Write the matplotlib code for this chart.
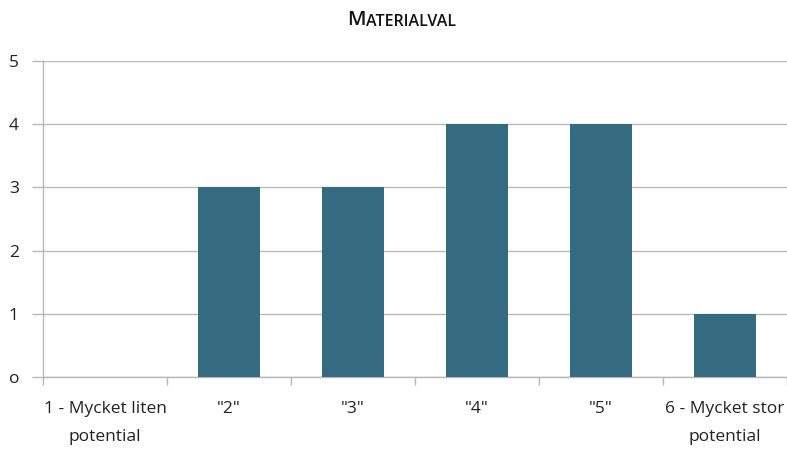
import matplotlib
matplotlib.use("Agg")
import matplotlib.pyplot as plt
import numpy as np

categories = ["1 - Mycket liten\npotential", '"2"', '"3"', '"4"', '"5"', "6 - Mycket stor\npotential"]
values = [0, 3, 3, 4, 4, 1]
yticks = [0, 1, 2, 3, 4, 5]
ytick_labels = ["o", "1", "2", "3", "4", "5"]

plt.rcParams["font.family"] = ["Open Sans", "DejaVu Sans"]

grid_color = "#b8b8b8"
bar_color = "#356b80"

fig = plt.figure(figsize=(7.87, 4.49), dpi=100)
ax = fig.add_axes([43 / 787, 1 - 377 / 449, 1 - 43 / 787, (377 - 61) / 449])

x = np.arange(len(categories))
ax.bar(x, values, width=0.5, color=bar_color, zorder=3)

ax.set_xlim(-0.5, len(categories) - 0.5)
ax.set_ylim(0, 5)

# y axis: ticks extend outward and continue as gridlines
ax.set_yticks(yticks)
ax.set_yticklabels(ytick_labels, fontsize=12.5, color="#222222")
ax.tick_params(axis="y", length=8, width=1, color=grid_color, pad=13)
for lbl in ax.get_yticklabels():
    lbl.set_horizontalalignment("center")
ax.yaxis.grid(True, color=grid_color, linewidth=1, zorder=0)

# x axis: tick marks at category boundaries, labels centred in categories
ax.set_xticks(np.arange(-0.5, len(categories), 1.0))
ax.set_xticklabels([])
ax.set_xticks(x, minor=True)
ax.set_xticklabels(categories, minor=True, fontsize=12.5, color="#222222", linespacing=2.05)
ax.tick_params(axis="x", which="major", length=6, width=1, color=grid_color)
ax.tick_params(axis="x", which="minor", length=0, pad=17)

for side in ("top", "right"):
    ax.spines[side].set_visible(False)
for side in ("left", "bottom"):
    ax.spines[side].set_color(grid_color)
    ax.spines[side].set_linewidth(1)
ax.set_axisbelow(True)

# small-caps title
t1 = fig.text(347 / 787, 1 - 25 / 449, "M", fontsize=14.5, fontweight="semibold",
              ha="left", va="baseline", color="#111111")
fig.canvas.draw()
ax.annotate("ATERIALVAL", xy=(1, 0), xycoords=t1, xytext=(0.5, 0), textcoords="offset points",
            fontsize=11.5, fontweight="semibold", ha="left", va="bottom", color="#111111")

fig.savefig("out.png", dpi=100)
